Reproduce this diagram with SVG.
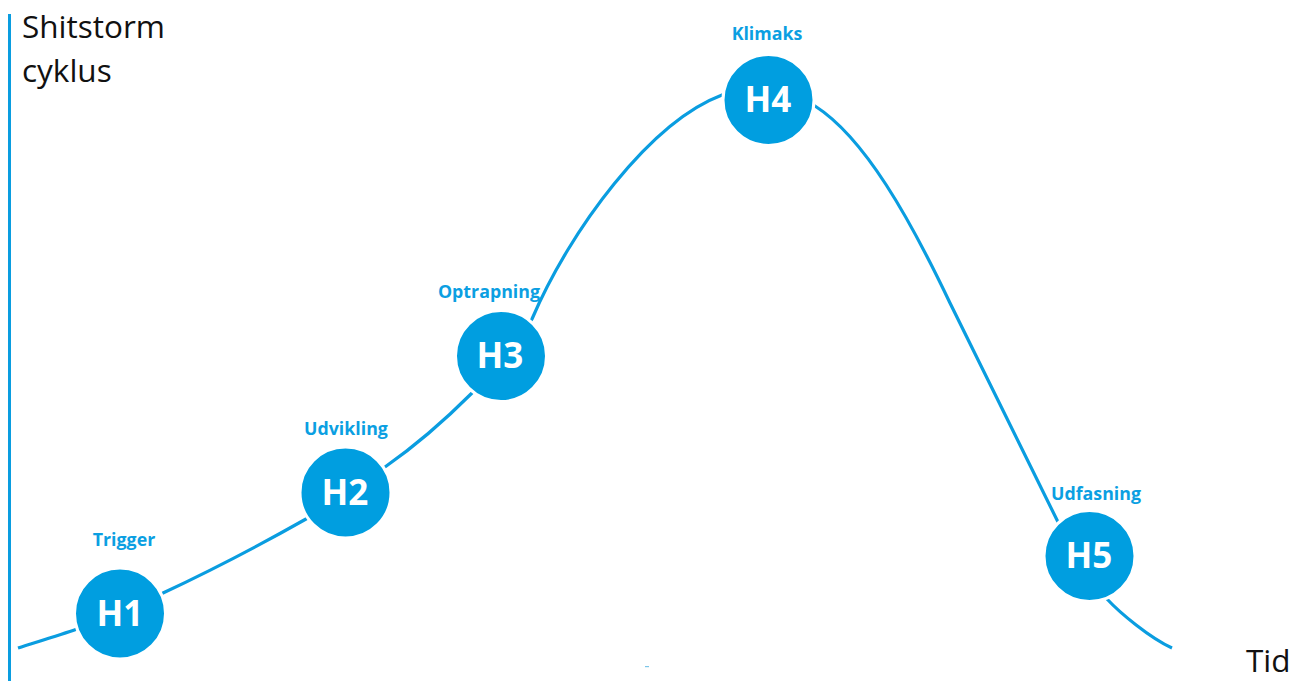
<svg xmlns="http://www.w3.org/2000/svg" width="1303" height="681" viewBox="0 0 1303 681">
  <style>
    .axis { stroke: #0a9de0; stroke-width: 3; fill: none; }
    .curve { stroke: #0a9de0; stroke-width: 3.2; fill: none; stroke-linecap: butt; }
    .node circle { fill: #009ee0; stroke: #ffffff; stroke-width: 3; }
    .node .id { font-family: "Open Sans", "Liberation Sans", sans-serif; font-weight: 700; font-size: 35px; fill: #ffffff; text-anchor: middle; }
    .node .label { font-family: "Open Sans", "Liberation Sans", sans-serif; font-weight: 700; font-size: 17.8px; fill: #0b9fe2; text-anchor: middle; }
    .title { font-family: "Open Sans", "Liberation Sans", sans-serif; font-size: 31.5px; fill: #111111; }
  </style>
  <rect width="1303" height="681" fill="#ffffff"/>

  <!-- vertical axis and axis captions -->
  <line class="axis" x1="9.5" y1="14" x2="9.5" y2="681"/>
  <text class="title" x="22" y="38">Shitstorm</text>
  <text class="title" x="22" y="82">cyklus</text>
  <text class="title" x="1246" y="672">Tid</text>
  <rect x="645" y="666" width="4" height="1.2" fill="#7cc6e8"/>

  <!-- cycle curve -->
  <g id="connectors">
    <path class="curve" d="M18,648 C40,641 60,635 77,629 C100,621 140,604 163,593 C210,571 260,545 306,519 C330,505 360,484 385,467 C415,446 445,420 472,393 C495,370 515,347 532,319 C570,230 650,122 722,95 C747,86 795,91 815,106 C865,138 910,219 950,303 L1057,520 C1072,549 1095,580 1107,599 C1120,613 1150,638 1172,648"/>
  </g>

  <!-- phases -->
  <g id="h1" class="node">
    <circle cx="120" cy="613.5" r="45.5"/>
    <text class="id" x="120" y="626">H1</text>
    <text class="label" x="124" y="546">Trigger</text>
  </g>
  <g id="h2" class="node">
    <circle cx="345.5" cy="492.5" r="45.5"/>
    <text class="id" x="345" y="505">H2</text>
    <text class="label" x="346" y="435">Udvikling</text>
  </g>
  <g id="h3" class="node">
    <circle cx="501" cy="356" r="45.5"/>
    <text class="id" x="500" y="368">H3</text>
    <text class="label" x="489" y="298">Optrapning</text>
  </g>
  <g id="h4" class="node">
    <circle cx="768.5" cy="100" r="45.5"/>
    <text class="id" x="768" y="112">H4</text>
    <text class="label" x="767" y="40">Klimaks</text>
  </g>
  <g id="h5" class="node">
    <circle cx="1089.5" cy="556" r="45.5"/>
    <text class="id" x="1089" y="568">H5</text>
    <text class="label" x="1096" y="500">Udfasning</text>
  </g>
</svg>
